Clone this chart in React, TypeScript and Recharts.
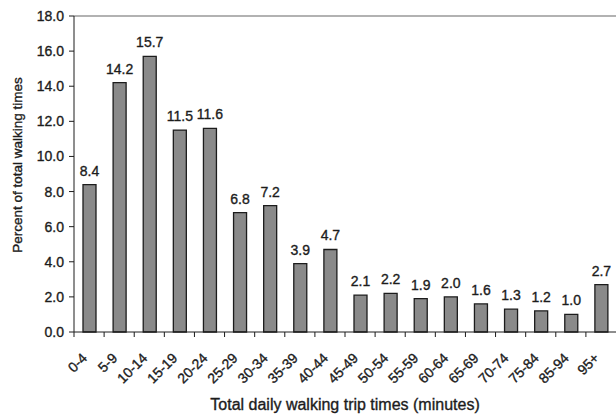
import { Bar, BarChart, LabelList, ReferenceLine, XAxis, YAxis } from 'recharts';

const categories = [
  '0-4', '5-9', '10-14', '15-19', '20-24', '25-29', '30-34', '35-39', '40-44',
  '45-49', '50-54', '55-59', '60-64', '65-69', '70-74', '75-84', '85-94', '95+',
];
const percents = [8.4, 14.2, 15.7, 11.5, 11.6, 6.8, 7.2, 3.9, 4.7, 2.1, 2.2, 1.9, 2.0, 1.6, 1.3, 1.2, 1.0, 2.7];
const yTicks = [0, 2, 4, 6, 8, 10, 12, 14, 16, 18];

const data = categories.map((name, i) => ({ name, value: percents[i] }));

const FONT = '"Liberation Sans", Arial, sans-serif';
const INK = '#1c1c1c';
const BAND = 30.1;

// scanned text looks a bit heavier than regular, so give it a thin outline
const heavy = { fill: INK, stroke: INK, strokeWidth: 0.35 };

function CategoryTick({ x, y, payload }: { x?: number; y?: number; payload?: { value: string } }) {
  const cx = x ?? 0;
  const cy = y ?? 0;
  const tx = cx - 1;
  const ty = cy + 27;
  return (
    <g>
      <line x1={cx - BAND / 2} y1={cy} x2={cx - BAND / 2} y2={cy + 5} stroke={INK} />
      <text
        x={tx}
        y={ty}
        textAnchor="end"
        fontSize={14}
        fontFamily={FONT}
        {...heavy}
        transform={`rotate(-45 ${tx} ${ty})`}
      >
        {payload?.value}
      </text>
    </g>
  );
}

function XTitle() {
  return (
    <text x={345} y={410} textAnchor="middle" fontSize={16} fontFamily={FONT} {...heavy}>
      Total daily walking trip times (minutes)
    </text>
  );
}

function YTitle() {
  return (
    <text
      x={22}
      y={165}
      textAnchor="middle"
      fontSize={13.5}
      fontFamily={FONT}
      {...heavy}
      transform="rotate(-90 22 165)"
    >
      Percent of total walking times
    </text>
  );
}

export default function App() {
  return (
    <div style={{ position: 'absolute', left: 0, top: 0, background: '#fff' }}>
      <BarChart
        width={616}
        height={416}
        data={data}
        margin={{ top: 16, right: 0, left: 0, bottom: 0 }}
        barCategoryGap={0}
      >
        <ReferenceLine y={18} stroke="#666" strokeWidth={1.2} />
        <XAxis
          dataKey="name"
          interval={0}
          height={84}
          tickLine={false}
          tickSize={0}
          tickMargin={0}
          axisLine={{ stroke: INK }}
          tick={<CategoryTick />}
          label={<XTitle />}
        />
        <YAxis
          width={74}
          domain={[0, 18]}
          ticks={yTicks}
          interval={0}
          tickFormatter={(v: number) => v.toFixed(1)}
          tick={{ fontSize: 14, fontFamily: FONT, ...heavy }}
          tickSize={5}
          tickMargin={5}
          tickLine={{ stroke: INK }}
          axisLine={{ stroke: INK }}
          label={<YTitle />}
        />
        <Bar dataKey="value" fill="#8a8a8a" stroke={INK} strokeWidth={1.3} barSize={13} isAnimationActive={false}>
          <LabelList
            dataKey="value"
            position="top"
            offset={9}
            formatter={(v: number) => v.toFixed(1)}
            style={{ fontSize: 14, fontFamily: FONT, ...heavy }}
          />
        </Bar>
      </BarChart>
    </div>
  );
}
